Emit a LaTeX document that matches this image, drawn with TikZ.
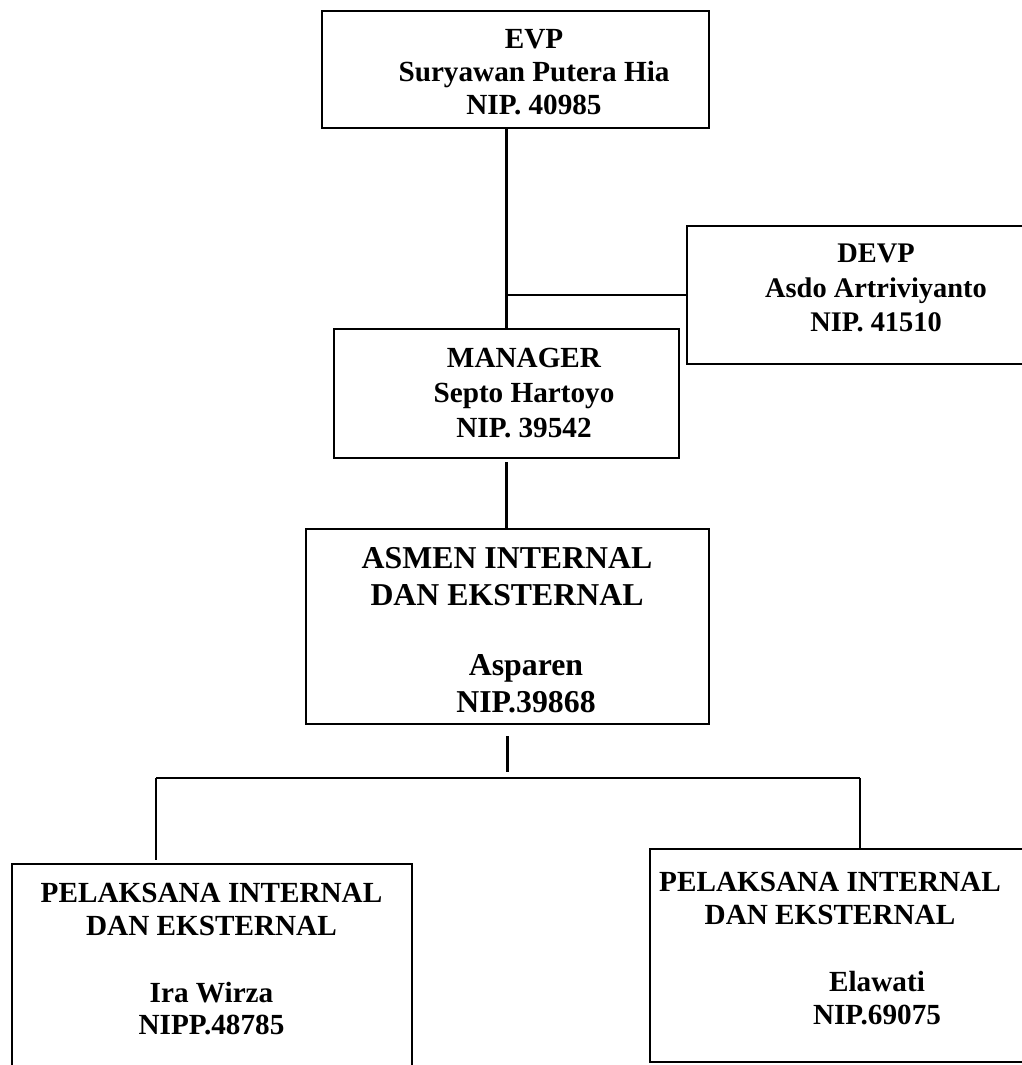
\documentclass[tikz,border=0pt]{standalone}
\usepackage{fontspec}
\setmainfont{Liberation Serif}

\begin{document}
\begin{tikzpicture}[x=0.5pt,y=-0.5pt,
  box/.style={draw,line width=1.2pt,inner sep=0pt,outer sep=0pt},
  txt/.style={align=center,inner sep=0pt,font=\bfseries\fontsize{14.6}{16.5}\selectfont},
  link/.style={line width=1.1pt}]
\clip (0,0) rectangle (1022,1065);
\node[box,minimum width=193.5pt,minimum height=58.5pt] (evp) at (515.5,69.5) {};
\node[box,minimum width=176.5pt,minimum height=69pt] (devp) at (863.5,295) {};
\node[box,minimum width=172.5pt,minimum height=64.5pt] (mgr) at (506.5,393.5) {};
\node[box,minimum width=201.5pt,minimum height=97.5pt] (asmen) at (507.5,626.5) {};
\node[box,minimum width=200pt,minimum height=113pt] (pelkiri) at (212,977) {};
\node[box,minimum width=197.5pt,minimum height=106.5pt] (pelkanan) at (847.5,955.5) {};
\node[txt] (evpt) at (534,72.5) {EVP\\Suryawan Putera Hia\\NIP. 40985};
\node[txt,font=\bfseries\fontsize{14.2}{17.25}\selectfont] (devpt) at (876,288) {DEVP\\Asdo Artriviyanto\\NIP. 41510};
\node[txt,font=\bfseries\fontsize{14.6}{17.5}\selectfont] (mgrt) at (524,393.5) {MANAGER\\Septo Hartoyo\\NIP. 39542};
\node[txt,font=\bfseries\fontsize{15.9}{18.5}\selectfont] (asment) at (507,630.5) {ASMEN INTERNAL\\DAN EKSTERNAL\\[16.5pt]\hspace*{19pt}Asparen\\\hspace*{19pt}NIP.39868};
\node[txt,font=\bfseries\fontsize{14.6}{16.25}\selectfont] (pelkirit) at (211.5,959.5) {PELAKSANA INTERNAL\\DAN EKSTERNAL\\[17.25pt]Ira Wirza\\NIPP.48785};
\node[txt] (pelkanant) at (830,949) {PELAKSANA INTERNAL\\DAN EKSTERNAL\\[17pt]\hspace*{47pt}Elawati\\\hspace*{47pt}NIP.69075};
\coordinate (busl) at (156,778);
\coordinate (busr) at (860,778);
\draw[link] (mgr.north |- evp.south) -- (mgr.north);
\draw[link] (mgr.north |- devp.west) -- (devp.west);
\draw[link,shorten <=2pt] (mgr.south) -- (mgr.south |- asmen.north);
\draw[link,shorten <=6pt,shorten >=3pt] (asmen.south) -- (asmen.south |- busl);
\draw[link] (busl) -- (busr);
\draw[link,shorten >=2pt] (busl) -- (busl |- pelkiri.north);
\draw[link] (busr) -- (busr |- pelkanan.north);
\end{tikzpicture}
\end{document}
